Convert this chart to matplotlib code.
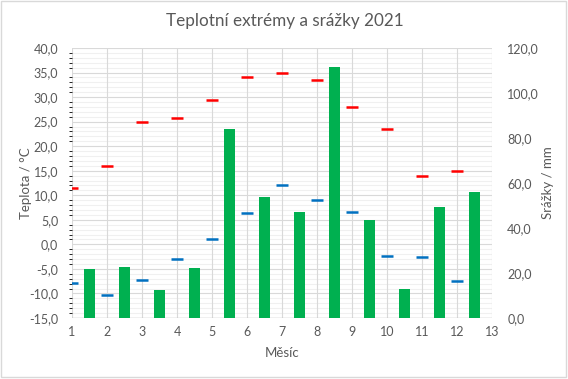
import numpy as np
import matplotlib
matplotlib.use("Agg")
import matplotlib.pyplot as plt
from matplotlib.ticker import MultipleLocator, FuncFormatter
from matplotlib.patches import Rectangle

plt.rcParams['font.family'] = ['Lato', 'DejaVu Sans']

# data
months = np.arange(1, 13)
t_max = [11.5, 16.0, 24.9, 25.7, 29.4, 34.0, 35.0, 33.5, 28.0, 23.5, 13.9, 15.0]
t_min = [-7.8, -10.4, -7.2, -2.9, 1.1, 6.4, 12.1, 9.0, 6.6, -2.4, -2.6, -7.4]
srazky = [21.8, 22.7, 12.6, 22.2, 84.0, 53.8, 47.1, 111.6, 43.6, 12.9, 49.3, 56.0]

grey = '#595959'
comma = FuncFormatter(lambda v, p: ('%.1f' % v).replace('.', ','))

fig = plt.figure(figsize=(5.68, 3.79), dpi=100)
ax = fig.add_axes([72/568, 1-318/379, 420/568, 270/379])
ax2 = ax.twinx()

# bars on the right axis, between month ticks
ax2.bar(months + 0.5, srazky, width=0.32, color='#00b050', zorder=3)
ax2.set_ylim(0, 120)
ax2.yaxis.set_major_locator(MultipleLocator(20))
ax2.yaxis.set_major_formatter(comma)

ax.set_zorder(ax2.get_zorder() + 1)
ax.patch.set_visible(False)
ax2.patch.set_visible(True)

ax.plot(months, t_max, ls='none', marker='_', ms=9, mew=1.8, color='#ff0000', zorder=4)
ax.plot(months, t_min, ls='none', marker='_', ms=9, mew=1.8, color='#0070c0', zorder=4)

ax.set_xlim(1, 13)
ax.set_ylim(-15, 40)
ax.xaxis.set_major_locator(MultipleLocator(1))
ax.yaxis.set_major_locator(MultipleLocator(5))
ax.yaxis.set_minor_locator(MultipleLocator(1))
ax.yaxis.set_major_formatter(comma)

# grid drawn on the bar axes so it stays behind the bars
for v in np.arange(-15, 41, 1):
    if v % 5 == 0:
        continue
    ax2.axhline((v + 15) * 120 / 55, color='#f0f0f0', lw=0.8, zorder=0)
for v in np.arange(-15, 41, 5):
    ax2.axhline((v + 15) * 120 / 55, color='#d9d9d9', lw=0.8, zorder=1)
for m in range(1, 14):
    ax2.axvline(m, color='#d9d9d9', lw=0.8, zorder=1)

for a in (ax, ax2):
    for s in a.spines.values():
        s.set_visible(False)
    a.tick_params(length=0, colors=grey, labelsize=9)
ax.tick_params(axis='y', pad=10)
ax.tick_params(axis='x', pad=6)
ax2.tick_params(axis='y', pad=11)
ax2.axhline(0, color='#bfbfbf', lw=1, zorder=2)

ax.set_ylabel('Teplota / °C', color=grey, fontsize=9.5, labelpad=-2.4)
ax2.set_ylabel('Srážky / mm', color=grey, fontsize=9.5, rotation=90, labelpad=2.4)
ax.set_xlabel('Měsíc', color=grey, fontsize=9.5, labelpad=6)
fig.suptitle('Teplotní extrémy a srážky 2021', x=285/568, y=1-21/379, va='center',
             color=grey, fontsize=12.3)

fig.patches.append(Rectangle((0.002, 0.004), 0.994, 0.993, transform=fig.transFigure,
                             fill=False, ec='#d9d9d9', lw=1))

fig.savefig('out.png', dpi=100)
